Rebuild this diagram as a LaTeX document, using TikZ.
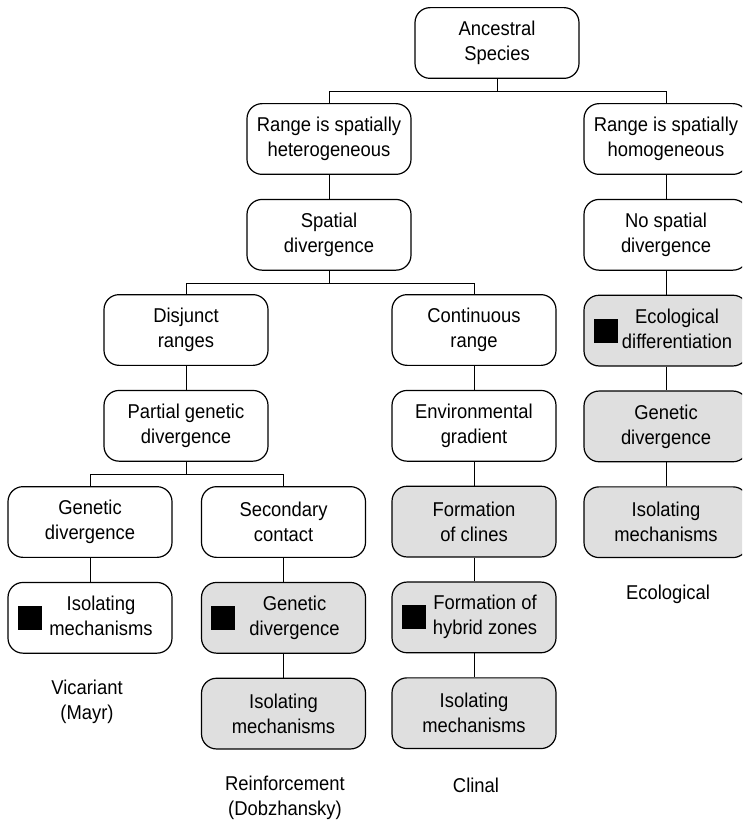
\documentclass[tikz,border=0pt]{standalone}
\usepackage{fontspec}
\setmainfont{Liberation Sans}[FakeStretch=0.92]
\usetikzlibrary{positioning}
\tikzset{
  box/.style={draw, rounded corners=15pt, line width=1.2pt, minimum width=164pt, minimum height=70.7pt, align=center, inner sep=2pt},
  shade/.style={box, fill=gray!25},
  marked/.style={path picture={\fill[black, sharp corners] ([xshift=9.5pt,yshift=-12pt]path picture bounding box.west) rectangle ++(24pt,24pt);}},
  caption/.style={align=center}
}
\newcommand{\mtext}[1]{\hspace*{22pt}\begin{tabular}{@{}c@{}}#1\end{tabular}}
\begin{document}
\begin{tikzpicture} [x=1pt, y=-1pt, line width=1pt, node distance=95.8pt, font=\fontsize{20}{25}\selectfont]
        \useasboundingbox (0,0) rectangle (742,821);
        \clip (0,0) rectangle (742,821);

        \node [box] (anc) at (497,43) {Ancestral\\Species};

        \node [box] (het) at (329,139) {Range is spatially\\heterogeneous};
        \node [box] (spa) [below of = het] {Spatial\\divergence};

        \node [box] (hom) at (666,139) {Range is spatially\\homogeneous};
        \node [box] (nsd) [below of = hom] {No spatial\\divergence};
        \node [shade, marked] (eco) [below of = nsd] {\mtext{Ecological\\differentiation}};
        \node [shade] (gen4) [below of = eco] {Genetic\\divergence};
        \node [shade] (iso4) [below of = gen4] {Isolating\\mechanisms};
        \node [caption] (ecolab) at (668,594) {Ecological};

        \node [box] (dis) at (186,330) {Disjunct\\ranges};
        \node [box] (par) [below of = dis] {Partial genetic\\divergence};

        \node [box] (con) at (474,330) {Continuous\\range};
        \node [box] (env) [below of = con] {Environmental\\gradient};
        \node [shade] (cli) [below of = env] {Formation\\of clines};
        \node [shade, marked] (hyb) [below of = cli] {\mtext{Formation of\\hybrid zones}};
        \node [shade] (iso3) [below of = hyb] {Isolating\\mechanisms};
        \node [caption] (clilab) at (476,785) {Clinal};

        \node [box] (gen1) at (90,522) {Genetic\\divergence};
        \node [box, marked] (iso1) [below of = gen1] {\mtext{Isolating\\mechanisms}};
        \node [caption] (viclab) at (87,702) {Vicariant\\(Mayr)};

        \node [box] (sec) at (283.5,522) {Secondary\\contact};
        \node [shade, marked] (gen2) [below of = sec] {\mtext{Genetic\\divergence}};
        \node [shade] (iso2) [below of = gen2] {Isolating\\mechanisms};
        \node [caption] (reilab) at (285,797.5) {Reinforcement\\(Dobzhansky)};

        \draw (anc.south) -- ++(0,13) -| (het.north);
        \draw (anc.south) -- ++(0,13) -| (hom.north);
        \draw (spa.south) -- ++(0,13) -| (dis.north);
        \draw (spa.south) -- ++(0,13) -| (con.north);
        \draw (par.south) -- ++(0,13) -| (gen1.north);
        \draw (par.south) -- ++(0,13) -| (sec.north);

        \path (het) edge (spa);
        \path (hom) edge (nsd);
        \path (nsd) edge (eco);
        \path (eco) edge (gen4);
        \path (gen4) edge (iso4);
        \path (dis) edge (par);
        \path (con) edge (env);
        \path (env) edge (cli);
        \path (cli) edge (hyb);
        \path (hyb) edge (iso3);
        \path (gen1) edge (iso1);
        \path (sec) edge (gen2);
        \path (gen2) edge (iso2);

    \end{tikzpicture}
\end{document}
